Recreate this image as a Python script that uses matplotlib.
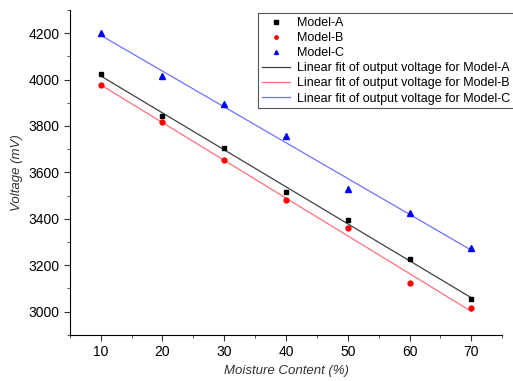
import numpy as np
import matplotlib.pyplot as plt
from matplotlib.ticker import MultipleLocator

plt.rcParams['font.family'] = ['Liberation Sans', 'DejaVu Sans']

moisture = [10, 20, 30, 40, 50, 60, 70]
model_a = [4025, 3845, 3705, 3515, 3395, 3225, 3055]
model_b = [3975, 3815, 3655, 3480, 3360, 3125, 3015]
model_c = [4200, 4015, 3895, 3755, 3530, 3425, 3275]

fig = plt.figure(figsize=(5.13, 3.81), dpi=100)
ax = fig.add_axes([0.136, 0.121, 0.843, 0.853])

x = np.array(moisture)
ax.plot(x, model_a, 's', color='black', ms=3.5, label='Model-A', zorder=3)
ax.plot(x, model_b, 'o', color='red', ms=3.5, label='Model-B', zorder=3)
ax.plot(x, model_c, '^', color='blue', ms=4, label='Model-C', zorder=3)

for ys, c, name in [(model_a, '#404040', 'A'), (model_b, '#ff6f7f', 'B'), (model_c, '#7070ff', 'C')]:
    k, b = np.polyfit(x, ys, 1)
    ax.plot(x, k * x + b, '-', color=c, lw=0.9,
            label='Linear fit of output voltage for Model-' + name)

ax.set_xlim(5, 75)
ax.set_ylim(2900, 4300)
ax.xaxis.set_major_locator(MultipleLocator(10))
ax.xaxis.set_minor_locator(MultipleLocator(5))
ax.yaxis.set_major_locator(MultipleLocator(200))
ax.yaxis.set_minor_locator(MultipleLocator(100))
ax.spines['top'].set_visible(False)
ax.spines['right'].set_visible(False)
ax.tick_params(which='major', direction='out', length=4, labelsize=10, color='#333333')
ax.tick_params(which='minor', direction='out', length=2.5, color='#333333')

ax.set_xlabel('Moisture Content (%)', fontstyle='italic', fontsize=9.5, color='#333333')
ax.set_ylabel('Voltage (mV)', fontstyle='italic', fontsize=9.5, color='#333333')

leg = ax.legend(loc='upper left', bbox_to_anchor=(0.435, 0.99), borderaxespad=0,
                fontsize=9, fancybox=False, framealpha=1, edgecolor='#555555',
                handlelength=2.3, borderpad=0.3, labelspacing=0.25,
                handletextpad=0.5, markerscale=0.7)
leg.get_frame().set_linewidth(0.8)

plt.savefig('out.png', dpi=100)
